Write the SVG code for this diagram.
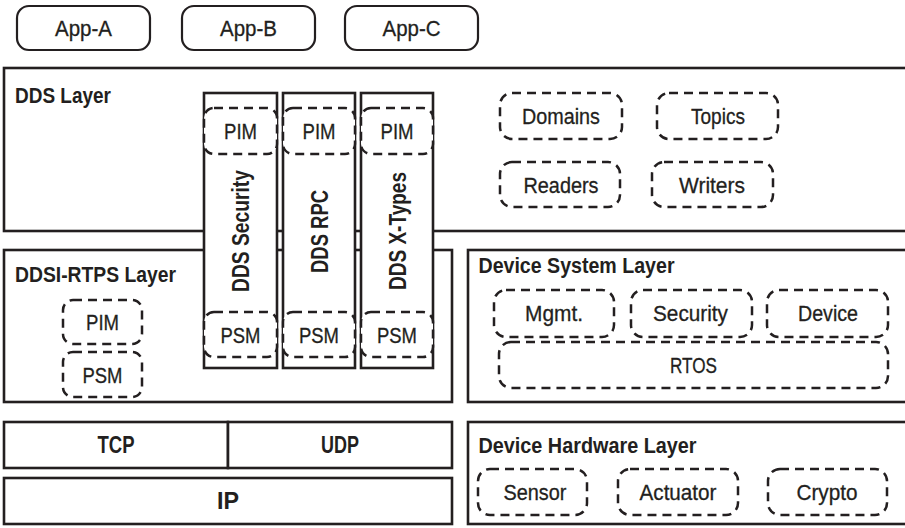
<svg xmlns="http://www.w3.org/2000/svg" width="905" height="528" viewBox="0 0 905 528">
<style>
.box{fill:#fff;stroke:#231f20;stroke-width:2.6}
.app{fill:#fff;stroke:#231f20;stroke-width:2.2}
.dash{fill:#fff;stroke:#231f20;stroke-width:2.5;stroke-dasharray:9 6}
.t{font-family:"Liberation Sans",Arial,sans-serif;font-size:22px;fill:#231f20;stroke:#231f20;stroke-width:0.3;text-anchor:middle}
.h{font-family:"Liberation Sans",Arial,sans-serif;font-size:22px;font-weight:bold;fill:#231f20}
.b{font-family:"Liberation Sans",Arial,sans-serif;font-size:23px;font-weight:bold;fill:#231f20;text-anchor:middle}
.v{font-family:"Liberation Sans",Arial,sans-serif;font-size:24px;font-weight:bold;fill:#231f20;text-anchor:middle}
</style>
<rect width="905" height="528" fill="#fff"/>
<g id="app-a"><rect class="app" x="17" y="6" width="133" height="44" rx="12"/><text class="t" x="83.5" y="36" textLength="57" lengthAdjust="spacingAndGlyphs">App-A</text></g>
<g id="app-b"><rect class="app" x="182" y="6" width="133" height="44" rx="12"/><text class="t" x="248.5" y="36" textLength="57" lengthAdjust="spacingAndGlyphs">App-B</text></g>
<g id="app-c"><rect class="app" x="345" y="6" width="133" height="44" rx="12"/><text class="t" x="411.5" y="36" textLength="58" lengthAdjust="spacingAndGlyphs">App-C</text></g>

<g id="dds-layer">
<rect class="box" x="4" y="68" width="910" height="163"/>
<text class="h" x="15" y="102.5" textLength="96" lengthAdjust="spacingAndGlyphs">DDS Layer</text>
<g id="domains"><rect class="dash" x="500" y="93" width="122" height="46" rx="12"/><text class="t" x="561" y="124" textLength="78" lengthAdjust="spacingAndGlyphs">Domains</text></g>
<g id="topics"><rect class="dash" x="657" y="93" width="121" height="46" rx="12"/><text class="t" x="718" y="124" textLength="54" lengthAdjust="spacingAndGlyphs">Topics</text></g>
<g id="readers"><rect class="dash" x="500" y="162" width="120" height="45" rx="12"/><text class="t" x="561" y="192.5" textLength="75" lengthAdjust="spacingAndGlyphs">Readers</text></g>
<g id="writers"><rect class="dash" x="652" y="162" width="121" height="45" rx="12"/><text class="t" x="712" y="192.5" textLength="66" lengthAdjust="spacingAndGlyphs">Writers</text></g>
</g>

<g id="ddsi-layer">
<rect class="box" x="4" y="250" width="448" height="152"/>
<text class="h" x="15" y="282" textLength="161" lengthAdjust="spacingAndGlyphs">DDSI-RTPS Layer</text>
<g id="ddsi-pim"><rect class="dash" x="63" y="300" width="79" height="44" rx="10"/><text class="t" x="102.5" y="330" textLength="33" lengthAdjust="spacingAndGlyphs">PIM</text></g>
<g id="ddsi-psm"><rect class="dash" x="63" y="352" width="79" height="45" rx="10"/><text class="t" x="102.5" y="382.5" textLength="40" lengthAdjust="spacingAndGlyphs">PSM</text></g>
</g>

<g id="dds-security">
<rect class="box" x="204" y="93" width="73" height="275"/>
<rect class="dash" x="204" y="108" width="73" height="46" rx="10"/><text class="t" x="240.5" y="139" textLength="33" lengthAdjust="spacingAndGlyphs">PIM</text>
<rect class="dash" x="204" y="312" width="73" height="45" rx="10"/><text class="t" x="240.5" y="342.5" textLength="40" lengthAdjust="spacingAndGlyphs">PSM</text>
<text class="v" transform="translate(248.5 231) rotate(-90)" textLength="122" lengthAdjust="spacingAndGlyphs">DDS Security</text>
</g>
<g id="dds-rpc">
<rect class="box" x="283" y="93" width="72" height="275"/>
<rect class="dash" x="283" y="108" width="72" height="46" rx="10"/><text class="t" x="319" y="139" textLength="33" lengthAdjust="spacingAndGlyphs">PIM</text>
<rect class="dash" x="283" y="312" width="72" height="45" rx="10"/><text class="t" x="319" y="342.5" textLength="40" lengthAdjust="spacingAndGlyphs">PSM</text>
<text class="v" transform="translate(327.5 231.5) rotate(-90)" textLength="83" lengthAdjust="spacingAndGlyphs">DDS RPC</text>
</g>
<g id="dds-xtypes">
<rect class="box" x="361" y="93" width="72" height="275"/>
<rect class="dash" x="361" y="108" width="72" height="46" rx="10"/><text class="t" x="397" y="139" textLength="33" lengthAdjust="spacingAndGlyphs">PIM</text>
<rect class="dash" x="361" y="312" width="72" height="45" rx="10"/><text class="t" x="397" y="342.5" textLength="40" lengthAdjust="spacingAndGlyphs">PSM</text>
<text class="v" transform="translate(405.5 231) rotate(-90)" textLength="118" lengthAdjust="spacingAndGlyphs">DDS X-Types</text>
</g>

<g id="device-system-layer">
<rect class="box" x="468" y="250" width="446" height="152"/>
<text class="h" x="478.5" y="273" textLength="196" lengthAdjust="spacingAndGlyphs">Device System Layer</text>
<g id="mgmt"><rect class="dash" x="494" y="290" width="120" height="47" rx="12"/><text class="t" x="554" y="321" textLength="58" lengthAdjust="spacingAndGlyphs">Mgmt.</text></g>
<g id="security"><rect class="dash" x="631" y="290" width="121" height="47" rx="12"/><text class="t" x="690.5" y="321" textLength="75" lengthAdjust="spacingAndGlyphs">Security</text></g>
<g id="device"><rect class="dash" x="767" y="290" width="121" height="47" rx="12"/><text class="t" x="828" y="321" textLength="60" lengthAdjust="spacingAndGlyphs">Device</text></g>
<g id="rtos"><rect class="dash" x="499" y="342" width="389" height="46" rx="12"/><text class="t" x="693.5" y="373" textLength="47" lengthAdjust="spacingAndGlyphs">RTOS</text></g>
</g>

<g id="device-hardware-layer">
<rect class="box" x="468" y="422" width="446" height="102"/>
<text class="h" x="478.5" y="453" textLength="218" lengthAdjust="spacingAndGlyphs">Device Hardware Layer</text>
<g id="sensor"><rect class="dash" x="478" y="469" width="109" height="46" rx="12"/><text class="t" x="535" y="500" textLength="63" lengthAdjust="spacingAndGlyphs">Sensor</text></g>
<g id="actuator"><rect class="dash" x="618" y="469" width="120" height="46" rx="12"/><text class="t" x="678" y="500" textLength="77" lengthAdjust="spacingAndGlyphs">Actuator</text></g>
<g id="crypto"><rect class="dash" x="768" y="469" width="119" height="46" rx="12"/><text class="t" x="827" y="500" textLength="61" lengthAdjust="spacingAndGlyphs">Crypto</text></g>
</g>

<g id="tcp"><rect class="box" x="4" y="422" width="224" height="46"/><text class="b" x="116" y="453" textLength="37" lengthAdjust="spacingAndGlyphs">TCP</text></g>
<g id="udp"><rect class="box" x="228" y="422" width="224" height="46"/><text class="b" x="340" y="453" textLength="38" lengthAdjust="spacingAndGlyphs">UDP</text></g>
<g id="ip"><rect class="box" x="4" y="478" width="448" height="46"/><text class="b" x="228" y="509" textLength="22" lengthAdjust="spacingAndGlyphs">IP</text></g>

<g id="connectors"></g>
</svg>
